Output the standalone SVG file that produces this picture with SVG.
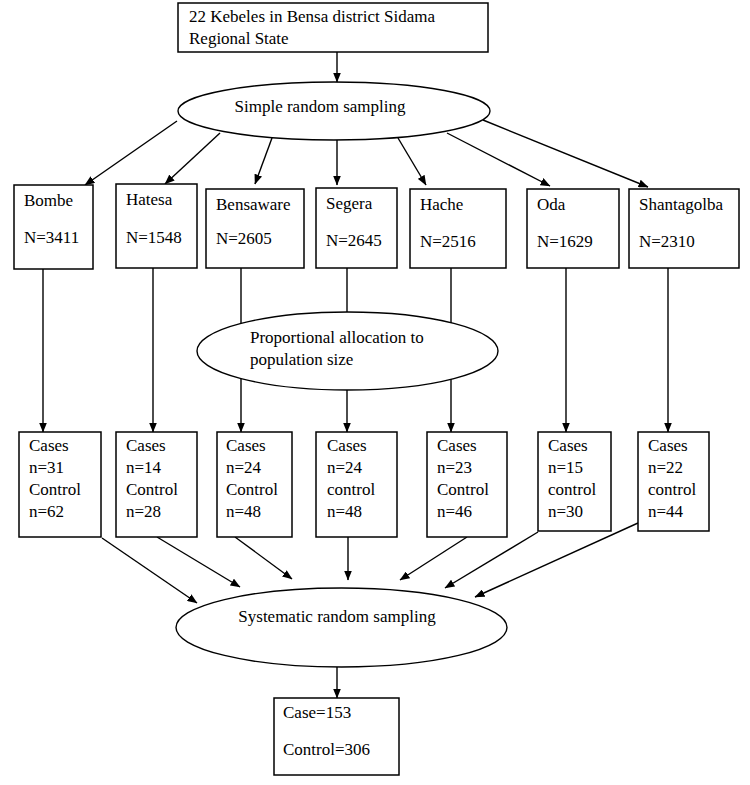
<svg xmlns="http://www.w3.org/2000/svg" width="750" height="785" viewBox="0 0 750 785">
<defs>
<style>
.box{fill:#fff;stroke:#000;stroke-width:1.5}
.ell{fill:#fff;stroke:#000;stroke-width:1.4}
.t{font-family:"Liberation Serif","Times New Roman",serif;font-size:17px;fill:#000}
.c line{stroke:#000;stroke-width:1.4;marker-end:url(#ah)}
.c line.p{marker-end:none}
</style>
<marker id="ah" markerWidth="10" markerHeight="8" refX="9.5" refY="4" orient="auto" markerUnits="userSpaceOnUse">
<path d="M0,0 L10,4 L0,8 z" fill="#000"/>
</marker>
</defs>
<rect width="750" height="785" fill="#fff"/>
<g class="c" id="connectors">
<line x1="337" y1="52" x2="337" y2="82"/>
<line x1="177" y1="121" x2="85" y2="185"/>
<line x1="220" y1="133" x2="165" y2="184"/>
<line x1="272" y1="138" x2="255" y2="184"/>
<line x1="337" y1="140" x2="337" y2="185"/>
<line x1="398" y1="138" x2="426" y2="185"/>
<line x1="447" y1="133" x2="550" y2="186"/>
<line x1="483" y1="120" x2="648" y2="187"/>
<line x1="43" y1="269" x2="43" y2="432"/>
<line x1="153" y1="268" x2="153" y2="432"/>
<line x1="241" y1="268" x2="241" y2="432"/>
<line x1="347" y1="268" x2="347" y2="432"/>
<line x1="451" y1="268" x2="451" y2="432"/>
<line x1="566" y1="268" x2="566" y2="432"/>
<line x1="668" y1="268" x2="668" y2="432"/>
<line x1="102" y1="538" x2="197" y2="603"/>
<line x1="157" y1="537" x2="240" y2="587"/>
<line x1="235" y1="537" x2="292" y2="579"/>
<line x1="348" y1="537" x2="348" y2="580"/>
<line x1="467" y1="537" x2="400" y2="580"/>
<line x1="538" y1="532" x2="445" y2="588"/>
<line x1="638" y1="523" x2="475" y2="597"/>
<line x1="337" y1="667" x2="337" y2="698"/>
</g>
<g id="top"><rect class="box" x="178" y="3" width="310" height="49"/>
<text class="t" x="189" y="22">22 Kebeles in Bensa district Sidama</text>
<text class="t" x="189" y="44">Regional State</text></g>
<g id="srs"><ellipse class="ell" cx="334" cy="111" rx="156" ry="29"/>
<text class="t" x="320" y="112" text-anchor="middle">Simple random sampling</text></g>
<g id="bombe"><rect class="box" x="14" y="185" width="79" height="84"/>
<text class="t" x="24" y="206">Bombe</text><text class="t" x="24" y="243">N=3411</text></g>
<g id="hatesa"><rect class="box" x="116" y="184" width="81" height="84"/>
<text class="t" x="126" y="205">Hatesa</text><text class="t" x="126" y="243">N=1548</text></g>
<g id="bensaware"><rect class="box" x="206" y="189" width="98" height="79"/>
<text class="t" x="216" y="210">Bensaware</text><text class="t" x="216" y="244">N=2605</text></g>
<g id="segera"><rect class="box" x="316" y="188" width="81" height="80"/>
<text class="t" x="326" y="209">Segera</text><text class="t" x="326" y="246">N=2645</text></g>
<g id="hache"><rect class="box" x="410" y="189" width="96" height="79"/>
<text class="t" x="420" y="210">Hache</text><text class="t" x="420" y="247">N=2516</text></g>
<g id="oda"><rect class="box" x="527" y="189" width="92" height="79"/>
<text class="t" x="537" y="210">Oda</text><text class="t" x="537" y="247">N=1629</text></g>
<g id="shantagolba"><rect class="box" x="629" y="189" width="110" height="79"/>
<text class="t" x="639" y="210">Shantagolba</text><text class="t" x="639" y="247">N=2310</text></g>
<g id="prop"><ellipse class="ell" cx="347.5" cy="351" rx="150.5" ry="39"/>
<text class="t" x="250" y="343">Proportional allocation to</text>
<text class="t" x="250" y="365">population size</text></g>
<g id="c1"><rect class="box" x="19" y="432" width="82" height="105"/>
<text class="t" x="29" y="451">Cases</text><text class="t" x="29" y="473">n=31</text><text class="t" x="29" y="495">Control</text><text class="t" x="29" y="517">n=62</text></g>
<g id="c2"><rect class="box" x="116" y="432" width="81" height="105"/>
<text class="t" x="126" y="451">Cases</text><text class="t" x="126" y="473">n=14</text><text class="t" x="126" y="495">Control</text><text class="t" x="126" y="517">n=28</text></g>
<g id="c3"><rect class="box" x="217" y="432" width="75" height="105"/>
<text class="t" x="226" y="451">Cases</text><text class="t" x="226" y="473">n=24</text><text class="t" x="226" y="495">Control</text><text class="t" x="226" y="517">n=48</text></g>
<g id="c4"><rect class="box" x="316" y="432" width="81" height="105"/>
<text class="t" x="327" y="451">Cases</text><text class="t" x="327" y="473">n=24</text><text class="t" x="327" y="495">control</text><text class="t" x="327" y="517">n=48</text></g>
<g id="c5"><rect class="box" x="427" y="432" width="80" height="105"/>
<text class="t" x="437" y="451">Cases</text><text class="t" x="437" y="473">n=23</text><text class="t" x="437" y="495">Control</text><text class="t" x="437" y="517">n=46</text></g>
<g id="c6"><rect class="box" x="538" y="432" width="73" height="99"/>
<text class="t" x="548" y="451">Cases</text><text class="t" x="548" y="473">n=15</text><text class="t" x="548" y="495">control</text><text class="t" x="548" y="517">n=30</text></g>
<g id="c7"><rect class="box" x="638" y="432" width="71" height="99"/>
<text class="t" x="648" y="451">Cases</text><text class="t" x="648" y="473">n=22</text><text class="t" x="648" y="495">control</text><text class="t" x="648" y="517">n=44</text></g>
<g id="sys"><ellipse class="ell" cx="341.5" cy="627.5" rx="165.5" ry="39.5"/>
<text class="t" x="337" y="622" text-anchor="middle">Systematic random sampling</text></g>
<g id="final"><rect class="box" x="274" y="698" width="125" height="77"/>
<text class="t" x="283" y="718">Case=153</text><text class="t" x="283" y="755">Control=306</text></g>
</svg>
